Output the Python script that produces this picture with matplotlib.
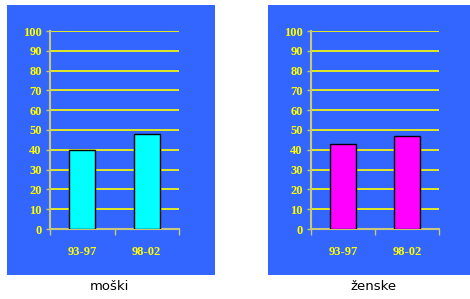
import matplotlib
matplotlib.use("Agg")
import matplotlib.pyplot as plt
from matplotlib.patches import Rectangle

categories = ["93-97", "98-02"]
men = [40, 48]
women = [43, 47]
yticks = [0, 10, 20, 30, 40, 50, 60, 70, 80, 90, 100]
captions = ["moški", "ženske"]

W, H = 470, 299
fig = plt.figure(figsize=(W / 100, H / 100), dpi=100)
fig.patch.set_facecolor("white")

blue = "#3366FF"
yellow = "#FFFF00"
spine_col = "#C8C878"

# blue panel backgrounds (pixel boxes: x0, y0, x1, y1 from top-left)
panels = [(7, 5, 215, 275), (268, 5, 470, 275)]
for (x0, y0, x1, y1) in panels:
    fig.add_artist(Rectangle((x0 / W, 1 - y1 / H), (x1 - x0) / W, (y1 - y0) / H,
                             transform=fig.transFigure, facecolor=blue,
                             edgecolor="none", zorder=0))

axes_boxes = [(50, 31, 179, 229), (311, 31, 439, 229)]
series = [men, women]
colors = ["#00FFFF", "#FF00FF"]
cap_x = [109, 373]

for (x0, y0, x1, y1), vals, col, cap, cx in zip(axes_boxes, series, colors, captions, cap_x):
    ax = fig.add_axes([x0 / W, 1 - y1 / H, (x1 - x0) / W, (y1 - y0) / H])
    ax.set_facecolor("none")
    x = list(range(len(categories)))
    ax.bar(x, vals, width=0.4, color=col, edgecolor="black", linewidth=1.0, zorder=3)
    ax.set_xlim(-0.5, len(categories) - 0.5)
    ax.set_ylim(0, 100)
    ax.set_yticks(yticks)
    ax.set_yticklabels([str(v) for v in yticks])
    for v in yticks[1:]:
        ax.axhline(v, color=yellow, linewidth=1.2, zorder=1)
    ax.set_xticks(x)
    ax.set_xticklabels(categories)
    ax.set_xticks([-0.5, 0.5, 1.5], minor=True)
    ax.tick_params(axis="x", which="major", length=0, pad=12)
    ax.tick_params(axis="x", which="minor", length=4, color=spine_col, width=1)
    ax.tick_params(axis="y", length=3, color=spine_col, width=1, pad=3)
    for lab in ax.get_xticklabels() + ax.get_yticklabels():
        lab.set_fontfamily("Liberation Serif")
        lab.set_fontweight("bold")
        lab.set_fontsize(9)
        lab.set_color(yellow)
    for s in ["top", "right"]:
        ax.spines[s].set_visible(False)
    ax.spines["left"].set_color(spine_col)
    ax.spines["bottom"].set_color(spine_col)
    ax.spines["left"].set_linewidth(1.5)
    ax.spines["bottom"].set_linewidth(1.5)
    fig.text(cx / W, 1 - 287 / H, cap, ha="center", va="center",
             fontsize=9.5, color="black", family="DejaVu Sans")

fig.savefig("out.png", dpi=100, facecolor="white")
